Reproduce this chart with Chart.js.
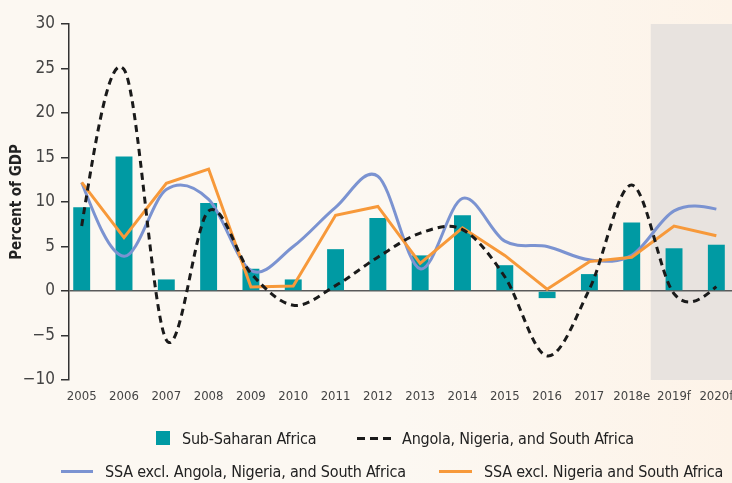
<!DOCTYPE html>
<html>
<head>
<meta charset="utf-8">
<script src="https://cdn.jsdelivr.net/npm/chart.js@4.4.0/dist/chart.umd.min.js"></script>
<style>
  html, body { margin: 0; padding: 0; }
  body {
    width: 732px; height: 483px; position: relative; overflow: hidden;
    background: linear-gradient(to right, #fcf8f2 55%, #fdf3e8);
    font-family: 'DejaVu Sans Condensed', 'Liberation Sans Narrow', sans-serif;
  }
  #myChart { position: absolute; left: 0; top: 0; }
  .legend-item {
    position: absolute; height: 22px; display: flex; align-items: center;
    font-size: 16px; letter-spacing: -0.2px; color: #222; white-space: nowrap;
  }
  .swatch { flex: none; margin-right: 12px; }
  .sw-bar { width: 14px; height: 14px; background: #009aa3; }
  .sw-dash { width: 34px; height: 3px; margin-right: 11px;
    background: repeating-linear-gradient(to right, #1a1a1a 0 8px, transparent 8px 13px); }
  .sw-blue { width: 32px; height: 3px; background: #7b93d1; }
  .sw-orange { width: 33px; height: 3px; background: #f7993a; }
</style>
</head>
<body>
<canvas id="myChart" width="732" height="483"></canvas>

<div class="legend-item" style="left:156px; top:427px;"><span class="swatch sw-bar"></span>Sub-Saharan Africa</div>
<div class="legend-item" style="left:357px; top:427px;"><span class="swatch sw-dash"></span>Angola, Nigeria, and South Africa</div>
<div class="legend-item" style="left:61px; top:460px;"><span class="swatch sw-blue"></span>SSA excl. Angola, Nigeria, and South Africa</div>
<div class="legend-item" style="left:439px; top:460px;"><span class="swatch sw-orange"></span>SSA excl. Nigeria and South Africa</div>

<script>
const years = ['2005', '2006', '2007', '2008', '2009', '2010', '2011', '2012',
               '2013', '2014', '2015', '2016', '2017', '2018e', '2019f', '2020f'];

const subSaharan = [9.4, 15.1, 1.3, 9.9, 2.5, 1.3, 4.7, 8.2, 4.0, 8.5, 2.9, -0.8, 1.9, 7.7, 4.8, 5.2];
const angolaNigeriaSA = [7.3, 24.9, -5.5, 9.0, 2.0, -1.6, 0.6, 3.8, 6.5, 6.9, 1.6, -7.3, 0.2, 11.9, -0.3, 0.5];
const exclAngolaNigeriaSA = [12.2, 3.9, 11.4, 10.3, 2.3, 5.0, 9.4, 12.9, 2.5, 10.4, 5.6, 5.0, 3.5, 4.0, 9.0, 9.2];
const exclNigeriaSA = [12.2, 6.0, 12.1, 13.7, 0.45, 0.55, 8.5, 9.5, 3.1, 7.1, 4.0, 0.2, 3.3, 3.8, 7.3, 6.2];

// forecast years are shaded from halfway between 2018e and 2019f
const forecastFrom = 13.45;

Chart.defaults.font.family = "'DejaVu Sans Condensed', 'Liberation Sans Narrow', sans-serif";

function toPoints(values) {
    return values.map((v, i) => ({x: i, y: v}));
}

const forecastShade = {
    id: 'forecastShade',
    beforeDraw(chart) {
        const {ctx, chartArea, scales} = chart;
        const left = scales.x.getPixelForValue(forecastFrom);
        ctx.save();
        ctx.fillStyle = '#e8e3df';
        ctx.fillRect(left, chartArea.top, chartArea.right - left, chartArea.bottom - chartArea.top);
        ctx.restore();
    }
};

// plain Catmull-Rom control points (like a spreadsheet "smoothed line"),
// instead of chart.js's distance-weighted ones
const smoothLines = {
    id: 'smoothLines',
    beforeDatasetDraw(chart, args) {
        const meta = args.meta;
        if (meta.type !== 'line' || !meta.dataset.options.tension) return;
        const pts = meta.data;
        const n = pts.length;
        const tan = pts.map((p, i) => {
            if (i === 0 || i === n - 1) return null;
            return {x: (pts[i + 1].x - pts[i - 1].x) / 2, y: (pts[i + 1].y - pts[i - 1].y) / 2};
        });
        tan[0] = {
            x: (3 * (pts[1].x - pts[0].x) - tan[1].x) / 2,
            y: (3 * (pts[1].y - pts[0].y) - tan[1].y) / 2
        };
        tan[n - 1] = {
            x: (3 * (pts[n - 1].x - pts[n - 2].x) - tan[n - 2].x) / 2,
            y: (3 * (pts[n - 1].y - pts[n - 2].y) - tan[n - 2].y) / 2
        };
        pts.forEach((p, i) => {
            p.cp1x = p.x - tan[i].x / 3;
            p.cp1y = p.y - tan[i].y / 3;
            p.cp2x = p.x + tan[i].x / 3;
            p.cp2y = p.y + tan[i].y / 3;
        });
        meta.dataset._pointsUpdated = true;
        meta.dataset._path = undefined;
    }
};

const ctx = document.getElementById('myChart').getContext('2d');
const myChart = new Chart(ctx, {
    type: 'bar',
    data: {
        datasets: [{
            type: 'line',
            label: 'Angola, Nigeria, and South Africa',
            data: toPoints(angolaNigeriaSA),
            borderColor: '#1a1a1a',
            borderWidth: 3,
            borderDash: [7, 5],
            tension: 0.5,
            pointRadius: 0,
            order: 0
        }, {
            type: 'line',
            label: 'SSA excl. Nigeria and South Africa',
            data: toPoints(exclNigeriaSA),
            borderColor: '#f7993a',
            borderWidth: 3,
            tension: 0,
            pointRadius: 0,
            order: 1
        }, {
            type: 'line',
            label: 'SSA excl. Angola, Nigeria, and South Africa',
            data: toPoints(exclAngolaNigeriaSA),
            borderColor: '#7b93d1',
            borderWidth: 3,
            tension: 0.5,
            pointRadius: 0,
            order: 2
        }, {
            label: 'Sub-Saharan Africa',
            data: toPoints(subSaharan),
            backgroundColor: '#009aa3',
            barPercentage: 0.4,
            categoryPercentage: 1,
            order: 3
        }]
    },
    options: {
        responsive: false,
        animation: false,
        layout: { padding: { top: 24, bottom: 73, left: 0, right: 0 } },
        plugins: {
            legend: { display: false },
            tooltip: { enabled: false }
        },
        scales: {
            x: {
                type: 'linear',
                offset: false,
                min: -0.3,
                max: 15.37,
                grid: { display: false, drawTicks: false },
                border: { display: false },
                afterBuildTicks: scale => {
                    scale.ticks = years.map((_, i) => ({value: i}));
                },
                afterFit: scale => {
                    scale.height = 30;
                    scale.paddingLeft = 0;
                    scale.paddingRight = 0;
                },
                ticks: {
                    autoSkip: false,
                    maxRotation: 0,
                    padding: 9,
                    color: '#444',
                    font: { size: 13 },
                    callback: v => years[v]
                }
            },
            y: {
                min: -10,
                max: 30,
                afterFit: scale => { scale.width = 69; },
                ticks: {
                    stepSize: 5,
                    padding: 6,
                    color: '#444',
                    font: { size: 17 },
                    callback: v => String(v).replace('-', '\u2212')
                },
                grid: {
                    color: c => (c.tick && c.tick.value === 0) ? '#5a5a5a' : 'rgba(0,0,0,0)',
                    tickColor: '#333',
                    tickLength: 8,
                    lineWidth: 1.5
                },
                border: { color: '#333', width: 1.5 },
                title: {
                    display: true,
                    text: 'Percent of GDP',
                    color: '#222',
                    font: { size: 15, weight: 'bold' },
                    padding: { top: 8, bottom: 0 }
                }
            }
        }
    },
    plugins: [forecastShade, smoothLines]
});
</script>
</body>
</html>
